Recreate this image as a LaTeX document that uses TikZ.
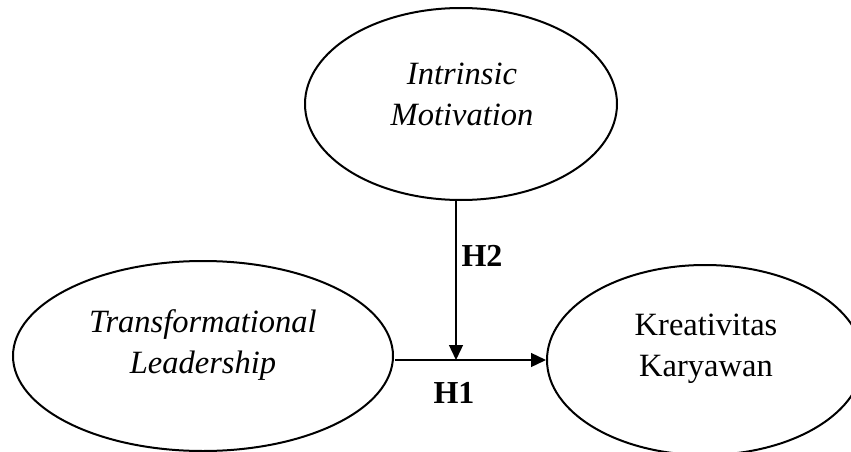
\documentclass[tikz,border=0pt]{standalone}
\usepackage{fontspec}
\setmainfont{Liberation Serif}
\usetikzlibrary{shapes.geometric,arrows.meta}
\begin{document}
\begin{tikzpicture}[x=1pt,y=-1pt,
  construct/.style={draw,ellipse,line width=2pt,inner sep=0pt},
  lbl/.style={align=center,font=\fontsize{32.5}{41}\selectfont},
  hyp/.style={font=\fontsize{32}{41}\selectfont\bfseries},
  link/.style={line width=1.3pt,-{Triangle[length=15pt,width=14pt]}}]
\useasboundingbox (0,0) rectangle (851,452);
\node[construct,minimum width=312pt,minimum height=192pt] (im) at (461,104) {};
\node[construct,minimum width=380pt,minimum height=190pt] (tl) at (203,356) {};
\node[construct,minimum width=316pt,minimum height=190pt] (kk) at (705,360) {};
\node[lbl,font=\fontsize{32.5}{41}\selectfont\itshape] (imt) at (462,94) {Intrinsic\\Motivation};
\node[lbl,font=\fontsize{32.5}{41}\selectfont\itshape] (tlt) at (203,345) {Transformational\\Leadership};
\node[lbl] (kkt) at (706,349) {Kreativitas\\Karyawan};
\coordinate (start) at (395,360);
\coordinate (meet) at (456,360);
\draw[link] (start) -- (kk.west |- start);
\draw[link] (im.south -| meet) -- (meet);
\node[hyp] (h2) at (482,256) {H2};
\node[hyp] (h1) at (454,393) {H1};
\end{tikzpicture}
\end{document}
